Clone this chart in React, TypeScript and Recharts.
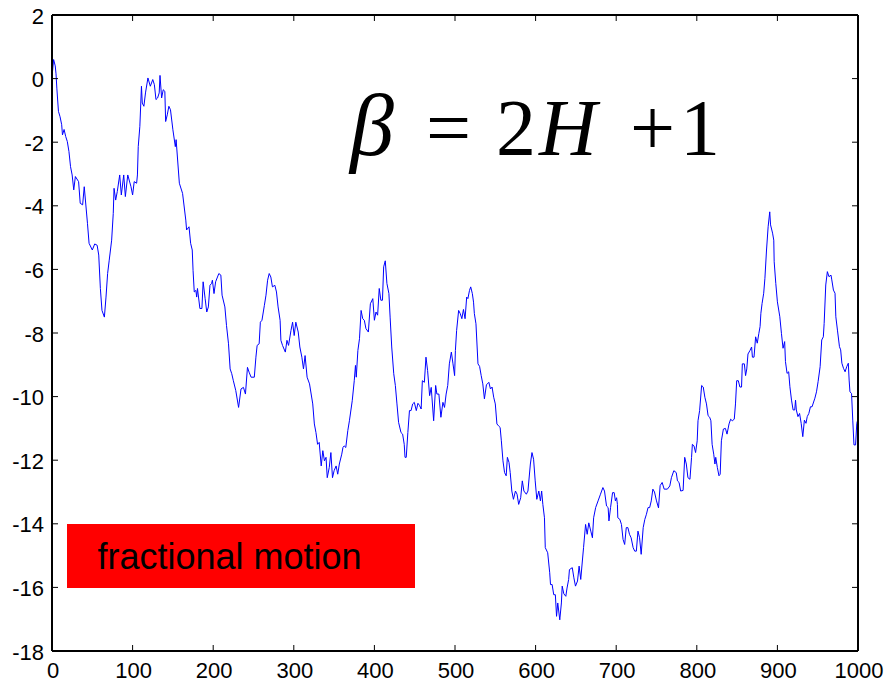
import React from "react";
import { LineChart, Line, XAxis, YAxis } from "recharts";

const timeSteps: number[] = [
  0, 2, 4, 5, 6, 8, 10, 12, 13, 15, 17, 19, 21, 23, 25, 27, 29, 33, 35, 38,
  40, 44, 46, 50, 53, 56, 58, 60, 62, 65, 67, 69, 71, 74, 76, 77, 79, 81, 84, 86,
  89, 91, 94, 98, 100, 102, 105, 106, 107, 109, 111, 112, 114, 116, 119, 122, 125, 127, 129, 131,
  133, 134, 136, 138, 140, 141, 143, 145, 147, 150, 153, 154, 158, 162, 166, 167, 170, 172, 174, 175,
  176.5, 178.5, 179.5, 180.5, 183.5, 186, 187.5, 190, 192, 194, 196, 198, 199, 201, 203, 207, 209.5, 211, 214.5, 216.5,
  219, 221, 223, 225, 228, 231.5, 234.5, 237.5, 240, 242.5, 244.5, 247, 251, 253, 254.5, 257, 258.5, 260.5, 263.5, 265.5,
  267.5, 269.5, 271.5, 273.5, 276.5, 278.5, 280.5, 283, 284, 286, 289.5, 291.5, 293.5, 296.5, 298.5, 300.5, 302.5, 305.5, 307.5, 310,
  312, 314, 316.5, 319.5, 323.5, 325.5, 327.5, 329.5, 331.5, 334, 336, 338, 340, 341.5, 344, 346, 348, 350, 352.5, 354.5,
  356.5, 359.5, 361, 362.5, 364.5, 367, 369, 372.5, 375, 376.5, 377.5, 379.5, 381.5, 383.5, 385.5, 387.5, 389.5, 392.5, 395, 398,
  400, 402, 404, 406, 408, 410, 411.5, 413.5, 415.5, 418, 419.5, 421.5, 424, 426, 428, 430, 433, 435, 437, 438,
  439.5, 441.5, 443.5, 445.5, 447.5, 449.5, 452, 454, 456, 458, 459.5, 462, 464, 466, 468.5, 470.5, 473.5, 476, 477.5, 480,
  482.5, 485, 487, 489, 491, 493, 495.5, 497.5, 499.5, 500.5, 502, 504.5, 506.5, 508.5, 510.5, 512.5, 514.5, 516, 518, 519.5,
  521.5, 523, 524, 526, 528.5, 530.5, 532.5, 534.5, 536.5, 539, 542, 544, 546, 548, 550, 552, 554, 556, 557.5, 559.5,
  561.5, 563.5, 565, 567, 568.5, 570.5, 572.5, 575, 577, 579, 581.5, 583.5, 585.5, 588.5, 590.5, 593.5, 595.5, 597.5, 599.5, 601.5,
  604, 606, 607.5, 609, 611, 612, 615, 617.5, 618.5, 620.5, 622.5, 624.5, 626, 627.5, 630, 632, 633, 635, 637.5, 639,
  641, 642, 645.5, 647.5, 649.5, 652, 654, 656, 658, 659.5, 662, 664, 666, 668.5, 670.5, 672, 674.5, 677.5, 680.5, 683.5,
  685.5, 688, 690, 691, 693, 695.5, 697.5, 699, 700.5, 701.5, 702, 704.5, 706.5, 708.5, 710.5, 712.5, 714.5, 716.5, 718.5, 721,
  723, 725, 727, 729, 731, 733.5, 735.5, 737.5, 739.5, 741.5, 743.5, 745.5, 747.5, 750, 752.5, 754.5, 757, 759.5, 763.5, 766.5,
  768.5, 771.5, 774.5, 776, 778, 780, 783, 785, 787, 789, 791.5, 793.5, 794.5, 796.5, 798.5, 800.5, 801.5, 803.5, 806, 808,
  810, 812, 814, 816, 817.5, 819, 821, 822.5, 823.5, 825.5, 827.5, 829, 830.5, 833, 835.5, 837.5, 840, 842, 844, 846.5,
  848, 849.5, 851.5, 853.5, 855.5, 856.5, 859, 860.5, 862, 863.5, 866, 868, 869, 871, 873, 875, 877, 878.5, 879.5, 881,
  883, 884.5, 886.5, 888.5, 890.5, 891.5, 894, 895.5, 896, 898, 900, 903, 905, 907, 909, 910, 912, 914, 915.5, 917.5,
  919.5, 921.5, 922.5, 923.5, 925.5, 927.5, 929.5, 931.5, 933.5, 935.5, 937, 939, 941, 943, 946.5, 948.5, 950.5, 953, 955, 957,
  958, 960, 962, 964, 966.5, 967.5, 969.5, 971.5, 972.5, 974.5, 977, 978.5, 980, 982, 984, 986, 988, 989, 990, 992,
  993.5, 995, 997, 998.5, 1000,
];

const motionValues: number[] = [
  0.05, 0.6, 0.4, 0.15, -0.3, -1.03, -1.2, -1.45, -1.77, -1.6, -1.82, -1.98, -2.29, -2.77, -3.03, -3.5, -3.08, -3.24, -3.92, -3.97,
  -3.4, -4.55, -5.18, -5.39, -5.2, -5.24, -5.55, -6.6, -7.29, -7.5, -6.87, -6.13, -5.71, -5.08, -4.24, -3.45, -3.82, -3.55, -3.03, -3.66,
  -3.03, -3.71, -3.03, -3.4, -3.66, -3.24, -3.29, -3.03, -2.14, -1.5, -0.24, -0.77, -0.87, -0.45, 0.02, -0.24, -0.03, -0.19, -0.66, -0.61,
  -0.45, 0.1, -0.61, -0.35, -0.4, -1.35, -1.14, -0.87, -0.98, -1.61, -2.14, -1.92, -3.29, -3.61, -4.45, -4.76, -4.66, -5.18, -5.39, -6.03,
  -6.71, -6.66, -6.87, -6.6, -7.23, -7.23, -6.39, -6.92, -7.34, -7.18, -6.5, -6.44, -6.34, -6.76, -6.39, -6.13, -6.18, -6.81, -7.18, -7.76,
  -8.34, -9.13, -9.28, -9.5, -9.81, -10.34, -9.76, -9.71, -9.92, -9.08, -9.23, -9.39, -9.39, -8.76, -8.39, -8.34, -7.66, -7.6, -7.13, -6.81,
  -6.34, -6.13, -6.24, -6.55, -6.5, -6.71, -7.18, -7.6, -8.23, -8.39, -8.6, -8.23, -8.39, -7.92, -7.66, -8.08, -7.66, -7.97, -8.44, -8.76,
  -9.13, -8.71, -9.39, -9.6, -10.23, -10.86, -11.13, -11.5, -11.44, -12.18, -11.7, -12.02, -11.91, -12.55, -12.23, -11.76, -12.55, -12.33, -12.18, -12.44,
  -12.12, -11.81, -11.6, -11.55, -11.6, -11.07, -10.76, -10.13, -9.5, -9.02, -9.39, -8.55, -8.18, -7.29, -7.55, -7.6, -7.86, -7.97, -7.08, -6.92,
  -7.6, -7.34, -7.44, -6.6, -6.97, -6.97, -5.92, -5.73, -6.44, -6.76, -7.5, -8.44, -9.28, -9.65, -10.23, -10.81, -11.13, -11.18, -11.5, -11.91,
  -11.91, -11.13, -10.44, -10.44, -10.23, -10.18, -10.44, -10.21, -10.28, -10.39, -9.5, -9.55, -8.76, -9.18, -9.97, -9.71, -10.76, -9.65, -9.92, -9.92,
  -10.65, -10.18, -10.34, -9.92, -9.65, -8.97, -8.6, -8.97, -9.34, -8.55, -7.92, -7.29, -7.39, -7.55, -7.26, -7.55, -6.87, -6.92, -6.66, -6.55,
  -6.76, -7.03, -7.39, -7.71, -8.97, -9.05, -9.34, -9.6, -10.07, -9.63, -9.55, -9.76, -9.7, -10.02, -10.23, -10.86, -10.92, -10.97, -11.39, -12.02,
  -12.39, -12.49, -11.91, -12.07, -12.39, -12.97, -13.23, -12.97, -13.07, -13.39, -13.18, -12.65, -12.97, -13.07, -12.97, -12.12, -11.76, -11.97, -12.65, -13.23,
  -12.97, -13.28, -12.97, -13.39, -13.81, -14.75, -14.91, -15.54, -15.91, -15.91, -16.23, -16.23, -16.91, -16.49, -17.02, -16.49, -15.96, -16.2, -16.28, -16.02,
  -15.75, -15.44, -15.38, -15.7, -15.96, -15.8, -15.33, -15.75, -15.17, -14.75, -14.02, -14.33, -13.97, -14.23, -14.44, -13.81, -13.49, -13.28, -13.07, -12.86,
  -12.97, -13.44, -13.49, -13.91, -13.49, -13.02, -13.02, -13.28, -13.18, -13.39, -13.81, -13.86, -14.02, -14.49, -14.65, -14.12, -14.12, -14.33, -14.44, -14.75,
  -14.86, -14.86, -14.23, -14.44, -14.96, -14.12, -13.86, -13.7, -13.49, -13.49, -13.28, -12.91, -13.0, -13.28, -13.5, -12.8, -12.7, -12.91, -12.91, -12.81,
  -12.55, -12.33, -12.39, -12.65, -12.7, -12.97, -12.95, -11.91, -12.12, -12.55, -12.6, -11.91, -11.5, -11.55, -11.76, -11.39, -10.76, -10.44, -9.65, -9.7,
  -10.02, -10.23, -10.6, -10.65, -10.76, -11.5, -11.81, -12.12, -11.91, -12.23, -12.49, -12.44, -11.39, -11.02, -11.0, -11.18, -10.86, -10.71, -10.76, -10.71,
  -10.23, -9.5, -9.5, -9.7, -9.7, -8.97, -8.97, -9.34, -9.13, -8.66, -8.55, -8.44, -8.76, -8.76, -8.12, -8.32, -8.01, -7.8, -7.38, -7.07,
  -6.75, -6.28, -5.39, -4.66, -4.19, -4.6, -4.86, -5.08, -5.76, -6.44, -7.02, -7.49, -8.01, -8.48, -8.27, -8.9, -9.27, -9.22, -9.69, -10.11,
  -10.42, -10.42, -10.11, -10.42, -10.63, -10.53, -10.84, -11.26, -10.74, -10.84, -10.63, -10.53, -10.32, -10.32, -10.05, -9.85, -9.53, -9.06, -8.22, -8.12,
  -7.7, -6.49, -6.07, -6.23, -6.18, -6.33, -6.65, -6.75, -7.49, -7.91, -8.43, -8.53, -8.95, -9.11, -9.22, -9.06, -8.95, -9.48, -9.85, -9.9,
  -10.74, -11.52, -11.52, -10.84, -10.7,
];

const xTicks: number[] = [0, 100, 200, 300, 400, 500, 600, 700, 800, 900, 1000];
const yTicks: number[] = [-18, -16, -14, -12, -10, -8, -6, -4, -2, 0, 2];
const xDomain: [number, number] = [0, 1000];
const yDomain: [number, number] = [-18, 2];

const equationParts = [
  { text: "\u03B2", italic: true, size: 88, x: 350 },
  { text: "=", italic: false, size: 80, x: 426 },
  { text: "2", italic: false, size: 80, x: 496 },
  { text: "H", italic: true, size: 80, x: 539 },
  { text: "+", italic: false, size: 80, x: 630 },
  { text: "1", italic: false, size: 80, x: 680 },
];
const labelText = "fractional motion";

const data = timeSteps.map((t, i) => ({ t, v: motionValues[i] }));

const FONT = "'Liberation Sans', Arial, sans-serif";
const TICK = 6;

const LeftTick = (props: any) => {
  const { x, y, payload } = props;
  return (
    <g>
      <line x1={x} y1={y} x2={x + TICK} y2={y} stroke="#000" strokeWidth={1} />
      <text x={x - 8} y={y + 8.5} textAnchor="end" fontFamily={FONT} fontSize={22} fill="#000">
        {payload.value}
      </text>
    </g>
  );
};
const RightTick = (props: any) => {
  const { x, y } = props;
  return <line x1={x} y1={y} x2={x - TICK} y2={y} stroke="#000" strokeWidth={1} />;
};
const BottomTick = (props: any) => {
  const { x, y, payload } = props;
  return (
    <g>
      <line x1={x} y1={y} x2={x} y2={y - TICK} stroke="#000" strokeWidth={1} />
      <text x={x + 1} y={y + 27} textAnchor="middle" fontFamily={FONT} fontSize={22} fill="#000">
        {payload.value}
      </text>
    </g>
  );
};
const TopTick = (props: any) => {
  const { x, y } = props;
  return <line x1={x} y1={y} x2={x} y2={y + TICK} stroke="#000" strokeWidth={1} />;
};

export default function App() {
  return (
    <div style={{ position: "absolute", left: 0, top: 0, width: 884, height: 682, background: "#fff" }}>
      <LineChart width={884} height={682} data={data} margin={{ top: 0, right: 0, bottom: 0, left: 0 }}>
        <XAxis
          xAxisId="b"
          dataKey="t"
          type="number"
          domain={xDomain}
          ticks={xTicks}
          allowDataOverflow
          height={31}
          tickSize={0}
          tickMargin={0}
          tick={BottomTick}
          axisLine={{ stroke: "#000", strokeWidth: 2 }}
          interval={0}
        />
        <XAxis
          xAxisId="top"
          orientation="top"
          dataKey="t"
          type="number"
          domain={xDomain}
          ticks={xTicks}
          allowDataOverflow
          height={15}
          tickSize={0}
          tickMargin={0}
          tick={TopTick}
          axisLine={{ stroke: "#000", strokeWidth: 2 }}
          interval={0}
        />
        <YAxis
          yAxisId="l"
          type="number"
          domain={yDomain}
          ticks={yTicks}
          allowDataOverflow
          width={52}
          tickSize={0}
          tickMargin={0}
          tick={LeftTick}
          axisLine={{ stroke: "#000", strokeWidth: 2 }}
          interval={0}
        />
        <YAxis
          yAxisId="r"
          orientation="right"
          type="number"
          domain={yDomain}
          ticks={yTicks}
          allowDataOverflow
          width={26}
          tickSize={0}
          tickMargin={0}
          tick={RightTick}
          axisLine={{ stroke: "#000", strokeWidth: 2 }}
          interval={0}
        />
        <Line
          xAxisId="b"
          yAxisId="l"
          dataKey="v"
          type="linear"
          stroke="#0000ff"
          strokeWidth={1}
          dot={false}
          activeDot={false}
          isAnimationActive={false}
        />
      </LineChart>
      <svg
        width={884}
        height={682}
        style={{ position: "absolute", left: 0, top: 0, pointerEvents: "none" }}
      >
        {equationParts.map((p, i) => (
          <text
            key={i}
            x={p.x}
            y={155}
            fontFamily="'Liberation Serif', 'Times New Roman', serif"
            fontStyle={p.italic ? "italic" : "normal"}
            fontSize={p.size}
            fill="#000"
          >
            {p.text}
          </text>
        ))}
        <rect x={67} y={524} width={348} height={64} fill="#ff0000" />
        <text x={97.5} y={569} fontFamily={FONT} fontSize={36} fill="#000">
          {labelText}
        </text>
      </svg>
    </div>
  );
}
